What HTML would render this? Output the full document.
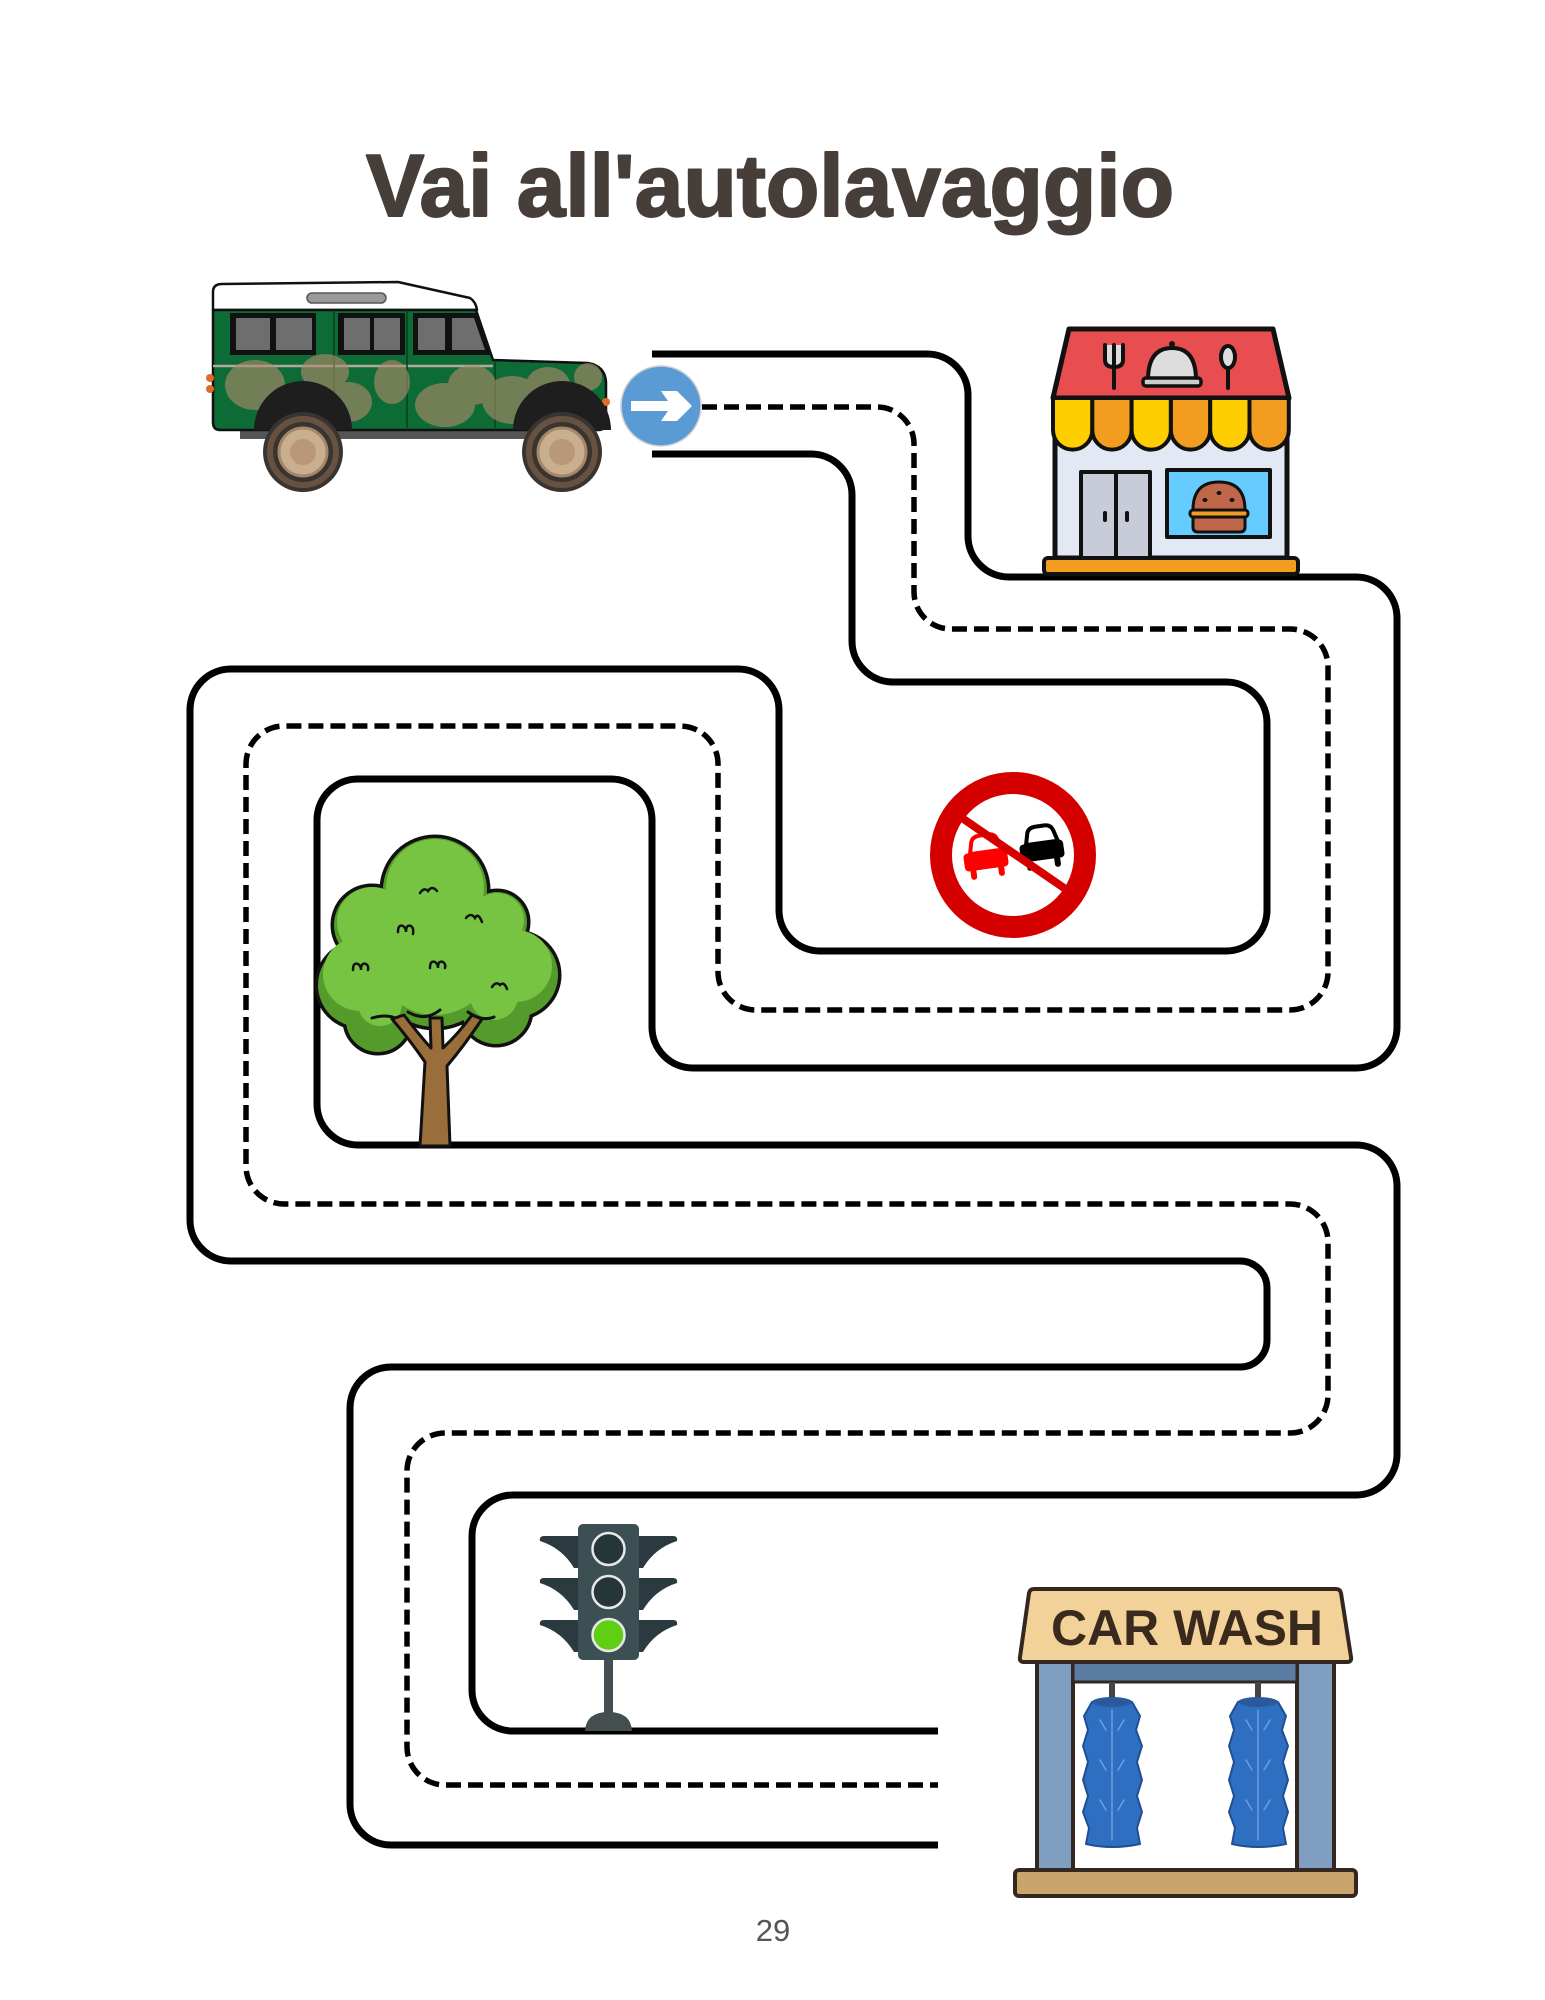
<!DOCTYPE html>
<html>
<head>
<meta charset="utf-8">
<style>
html,body{margin:0;padding:0;background:#fff;}
body{width:1545px;height:2000px;overflow:hidden;}
svg{display:block;}
</style>
</head>
<body>
<svg width="1545" height="2000" viewBox="0 0 1545 2000" xmlns="http://www.w3.org/2000/svg">
<rect width="1545" height="2000" fill="#fff"/>

<!-- Title -->
<text x="366" y="216" textLength="808" lengthAdjust="spacingAndGlyphs" font-family="Liberation Sans, sans-serif" font-weight="bold" font-size="88" fill="#473e3a" stroke="#473e3a" stroke-width="2" stroke-linejoin="round">Vai all'autolavaggio</text>

<!-- Maze roads -->
<g fill="none" stroke="#000" stroke-width="7">
<path d="M 652 354 H 927 A 41 41 0 0 1 968 395 V 536 A 41 41 0 0 0 1009 577 H 1356 A 41 41 0 0 1 1397 618 V 1027 A 41 41 0 0 1 1356 1068 H 693 A 41 41 0 0 1 652 1027 V 820 A 41 41 0 0 0 611 779 H 358 A 41 41 0 0 0 317 820 V 1104 A 41 41 0 0 0 358 1145 H 1356 A 41 41 0 0 1 1397 1186 V 1454 A 41 41 0 0 1 1356 1495 H 513 A 41 41 0 0 0 472 1536 V 1690 A 41 41 0 0 0 513 1731 H 938"/>
<path d="M 652 454 H 811 A 41 41 0 0 1 852 495 V 641 A 41 41 0 0 0 893 682 H 1226 A 41 41 0 0 1 1267 723 V 910 A 41 41 0 0 1 1226 951 H 820 A 41 41 0 0 1 779 910 V 710 A 41 41 0 0 0 738 669 H 231 A 41 41 0 0 0 190 710 V 1220 A 41 41 0 0 0 231 1261 H 1240 A 27 27 0 0 1 1267 1288 V 1340 A 27 27 0 0 1 1240 1367 H 391 A 41 41 0 0 0 350 1408 V 1804 A 41 41 0 0 0 391 1845 H 938"/>
</g>
<path fill="none" stroke="#000" stroke-width="5.5" stroke-dasharray="15 7" d="M 702 407 H 877 A 37 37 0 0 1 914 444 V 592 A 37 37 0 0 0 951 629 H 1290 A 38 38 0 0 1 1328 667 V 972 A 38 38 0 0 1 1290 1010 H 756 A 38 38 0 0 1 718 972 V 764 A 38 38 0 0 0 680 726 H 284 A 38 38 0 0 0 246 764 V 1166 A 38 38 0 0 0 284 1204 H 1290 A 38 38 0 0 1 1328 1242 V 1395 A 38 38 0 0 1 1290 1433 H 445 A 38 38 0 0 0 407 1471 V 1747 A 38 38 0 0 0 445 1785 H 938"/>

<!-- Arrow sign -->
<circle cx="661" cy="406" r="40" fill="#5b9bd5" stroke="#d0d0d0" stroke-width="1.5"/>
<polygon points="631,401 668,401 661,391 677,391 692,406 677,421 661,421 668,411 631,411" fill="#fff"/>

<!-- Jeep -->
<g stroke-linejoin="round">
<path d="M 213 310 V 292 Q 213 284 222 284 L 398 282 L 470 298 Q 476 302 477 310 Z" fill="#fff" stroke="#111" stroke-width="2.5"/>
<rect x="307" y="293" width="79" height="10" rx="5" fill="#9a9a9a" stroke="#555" stroke-width="1.5"/>
<rect x="240" y="426" width="330" height="13" fill="#555"/>
<path d="M 213 310 H 476 L 493 360 L 588 363 Q 605 366 606 382 V 422 Q 606 430 598 430 H 220 Q 213 430 213 422 Z" fill="#0d6b35" stroke="#111" stroke-width="2.5"/>
<rect x="230" y="313" width="86" height="42" fill="#111"/>
<rect x="236" y="318" width="34" height="32" fill="#6e6e6e"/>
<rect x="276" y="318" width="36" height="32" fill="#6e6e6e"/>
<rect x="338" y="313" width="67" height="42" fill="#111"/>
<rect x="344" y="318" width="26" height="32" fill="#6e6e6e"/>
<rect x="374" y="318" width="26" height="32" fill="#6e6e6e"/>
<polygon points="413,313 478,313 492,355 413,355" fill="#111"/>
<rect x="418" y="318" width="27" height="32" fill="#6e6e6e"/>
<polygon points="452,318 474,318 485,350 452,350" fill="#6e6e6e"/>
<line x1="213" y1="366" x2="493" y2="366" stroke="#b0a89a" stroke-width="2.5"/>
<line x1="334" y1="310" x2="334" y2="428" stroke="#083f20" stroke-width="1.5"/>
<line x1="407" y1="310" x2="407" y2="428" stroke="#083f20" stroke-width="1.5"/>
<line x1="495" y1="362" x2="495" y2="428" stroke="#083f20" stroke-width="1.5"/>
<g fill="#b48c6c" opacity="0.6">
<ellipse cx="255" cy="385" rx="30" ry="25"/>
<ellipse cx="325" cy="372" rx="24" ry="18"/>
<ellipse cx="348" cy="402" rx="24" ry="20"/>
<ellipse cx="392" cy="382" rx="18" ry="22"/>
<ellipse cx="445" cy="405" rx="30" ry="22"/>
<ellipse cx="472" cy="385" rx="24" ry="20"/>
<ellipse cx="512" cy="400" rx="30" ry="24"/>
<ellipse cx="548" cy="385" rx="22" ry="18"/>
<ellipse cx="588" cy="377" rx="14" ry="14"/>
</g>
<circle cx="210" cy="378" r="4" fill="#e06a2a"/>
<circle cx="210" cy="389" r="4" fill="#e06a2a"/>
<circle cx="606" cy="402" r="4" fill="#e06a2a"/>
<path d="M 254 430 A 49 49 0 0 1 352 430 Z" fill="#1e1e1e"/>
<path d="M 513 430 A 49 49 0 0 1 611 430 Z" fill="#1e1e1e"/>
<circle cx="303" cy="452" r="40" fill="#3a3430"/>
<circle cx="303" cy="452" r="33" fill="none" stroke="#7a6048" stroke-width="6" opacity="0.7"/>
<circle cx="303" cy="452" r="24" fill="#c9ae8f" stroke="#a38768" stroke-width="3"/>
<circle cx="303" cy="452" r="13" fill="#b8977a"/>
<circle cx="562" cy="452" r="40" fill="#3a3430"/>
<circle cx="562" cy="452" r="33" fill="none" stroke="#7a6048" stroke-width="6" opacity="0.7"/>
<circle cx="562" cy="452" r="24" fill="#c9ae8f" stroke="#a38768" stroke-width="3"/>
<circle cx="562" cy="452" r="13" fill="#b8977a"/>
</g>

<!-- Restaurant -->
<g stroke="#111" stroke-linejoin="round">
<polygon points="1069,329 1273,329 1289,398 1053,398" fill="#e84e4f" stroke-width="5"/>
<rect x="1055" y="398" width="232" height="160" fill="#e3e8f5" stroke-width="5"/>
<path d="M 1053 398 V 430 A 19.65 19.65 0 0 0 1092.3 430 V 398 Z" fill="#fece00" stroke-width="4"/>
<path d="M 1092.3 398 V 430 A 19.65 19.65 0 0 0 1131.6 430 V 398 Z" fill="#f29d1f" stroke-width="4"/>
<path d="M 1131.6 398 V 430 A 19.65 19.65 0 0 0 1170.9 430 V 398 Z" fill="#fece00" stroke-width="4"/>
<path d="M 1170.9 398 V 430 A 19.65 19.65 0 0 0 1210.2 430 V 398 Z" fill="#f29d1f" stroke-width="4"/>
<path d="M 1210.2 398 V 430 A 19.65 19.65 0 0 0 1249.5 430 V 398 Z" fill="#fece00" stroke-width="4"/>
<path d="M 1249.5 398 V 430 A 19.65 19.65 0 0 0 1288.8 430 V 398 Z" fill="#f29d1f" stroke-width="4"/>
<rect x="1081" y="472" width="69" height="86" fill="#c8ccd9" stroke-width="4"/>
<line x1="1116" y1="472" x2="1116" y2="558" stroke-width="4"/>
<rect x="1103" y="511" width="4" height="11" rx="2" fill="#111" stroke-width="0"/>
<rect x="1125" y="511" width="4" height="11" rx="2" fill="#111" stroke-width="0"/>
<rect x="1167" y="470" width="103" height="67" fill="#66ccff" stroke-width="4"/>
<path d="M 1193 510 Q 1193 482 1219 482 Q 1245 482 1245 510 Z" fill="#c0674a" stroke-width="3"/>
<rect x="1190" y="510" width="58" height="7" rx="3" fill="#f29d1f" stroke-width="3"/>
<path d="M 1193 517 H 1245 V 527 Q 1245 532 1240 532 H 1198 Q 1193 532 1193 527 Z" fill="#c0674a" stroke-width="3"/>
<ellipse cx="1205" cy="500" rx="2.5" ry="2" fill="#111" stroke-width="0"/>
<ellipse cx="1219" cy="493" rx="2.5" ry="2" fill="#111" stroke-width="0"/>
<ellipse cx="1232" cy="500" rx="2.5" ry="2" fill="#111" stroke-width="0"/>
<rect x="1044" y="558" width="254" height="16" rx="4" fill="#f29d1f" stroke-width="4"/>
<path d="M 1105 345 V 360 Q 1105 367 1114 367 Q 1123 367 1123 360 V 345 M 1114 345 V 388" fill="#ddd" stroke-width="4" stroke-linecap="round"/>
<path d="M 1148 380 Q 1148 348 1172 348 Q 1196 348 1196 380 Z" fill="#ddd" stroke-width="4"/>
<rect x="1143" y="378" width="58" height="8" rx="3" fill="#ccc" stroke-width="3.5"/>
<circle cx="1172" cy="344" r="3" fill="#111" stroke-width="0"/>
<ellipse cx="1228" cy="357" rx="7" ry="11" fill="#ddd" stroke-width="4"/>
<line x1="1228" y1="368" x2="1228" y2="388" stroke-width="4" stroke-linecap="round"/>
</g>

<!-- No overtaking sign -->
<circle cx="1013" cy="855" r="72" fill="#fff" stroke="#d40000" stroke-width="22"/>
<g transform="translate(986,860) rotate(-8)">
<path d="M -15 -8 L -12 -20 Q -10 -25 -3 -25 L 6 -25 Q 12 -25 14 -19 L 17 -8 Z" fill="#fff" stroke="#ff0000" stroke-width="4"/>
<rect x="-22" y="-9" width="44" height="18" rx="4" fill="#ff0000"/>
<rect x="-17" y="6" width="6" height="12" rx="3" fill="#ff0000"/>
<rect x="11" y="6" width="6" height="12" rx="3" fill="#ff0000"/>
</g>
<g transform="translate(1042,851) rotate(-8)">
<path d="M -15 -8 L -12 -20 Q -10 -25 -3 -25 L 6 -25 Q 12 -25 14 -19 L 17 -8 Z" fill="#fff" stroke="#000" stroke-width="4"/>
<rect x="-22" y="-9" width="44" height="18" rx="4" fill="#000"/>
<rect x="-17" y="6" width="6" height="12" rx="3" fill="#000"/>
<rect x="11" y="6" width="6" height="12" rx="3" fill="#000"/>
</g>
<line x1="962" y1="818" x2="1067" y2="890" stroke="#d40000" stroke-width="8"/>

<!-- Tree -->
<g>
<g fill="#559b2b" stroke="#111" stroke-width="7">
<circle cx="435" cy="890" r="52"/>
<circle cx="372" cy="925" r="38"/>
<circle cx="497" cy="922" r="30"/>
<circle cx="516" cy="975" r="42"/>
<circle cx="360" cy="985" r="42"/>
<circle cx="378" cy="1020" r="32"/>
<circle cx="496" cy="1010" r="34"/>
<circle cx="435" cy="965" r="62"/>
<circle cx="435" cy="985" r="40"/>
</g>
<g fill="#559b2b">
<circle cx="435" cy="890" r="52"/>
<circle cx="372" cy="925" r="38"/>
<circle cx="497" cy="922" r="30"/>
<circle cx="516" cy="975" r="42"/>
<circle cx="360" cy="985" r="42"/>
<circle cx="378" cy="1020" r="32"/>
<circle cx="496" cy="1010" r="34"/>
<circle cx="435" cy="965" r="62"/>
<circle cx="435" cy="985" r="40"/>
</g>
<g fill="#76c442">
<circle cx="435" cy="888" r="49"/>
<circle cx="372" cy="922" r="35"/>
<circle cx="497" cy="920" r="27"/>
<circle cx="516" cy="966" r="36"/>
<circle cx="360" cy="974" r="37"/>
<circle cx="435" cy="955" r="60"/>
<circle cx="380" cy="1004" r="22"/>
<circle cx="494" cy="996" r="24"/>
</g>
<g fill="none" stroke="#111" stroke-width="2.5" stroke-linecap="round">
<path d="M 420 893 q 4 -6 8 -2 q 4 -6 9 0"/>
<path d="M 398 932 q 0 -8 5 -6 q 3 2 3 6 q 0 -8 5 -6 q 3 2 2 8"/>
<path d="M 466 918 q 5 -6 9 0 q 3 -6 7 4"/>
<path d="M 353 970 q 0 -8 5 -6 q 3 2 3 6 q 0 -8 5 -6 q 3 2 2 6"/>
<path d="M 430 968 q 0 -8 5 -6 q 3 2 3 6 q 0 -8 5 -6 q 3 2 2 6"/>
<path d="M 492 987 q 4 -6 8 -2 q 4 -4 7 4"/>
</g>
<path d="M 420 1146 L 425 1062 Q 410 1040 392 1019 L 404 1015 Q 420 1036 431 1048 L 430 1018 L 442 1018 L 443 1048 Q 458 1034 472 1015 L 482 1019 Q 464 1046 447 1066 L 450 1146 Z" fill="#9a6e3a" stroke="#111" stroke-width="3" stroke-linejoin="round"/>
<g fill="none" stroke="#111" stroke-width="3" stroke-linecap="round">
<path d="M 372 1018 Q 385 1014 395 1018"/>
<path d="M 408 1012 Q 425 1022 440 1010"/>
<path d="M 468 1012 Q 482 1022 494 1017"/>
</g>
</g>

<!-- Traffic light -->
<g fill="#2a3a3e">
<path d="M 578 1536 H 544 Q 539 1536 540 1541 Q 562 1548 574 1568 L 578 1568 Z"/>
<path d="M 578 1578 H 544 Q 539 1578 540 1583 Q 562 1590 574 1610 L 578 1610 Z"/>
<path d="M 578 1620 H 544 Q 539 1620 540 1625 Q 562 1632 574 1652 L 578 1652 Z"/>
<path d="M 639 1536 H 673 Q 678 1536 677 1541 Q 655 1548 643 1568 L 639 1568 Z"/>
<path d="M 639 1578 H 673 Q 678 1578 677 1583 Q 655 1590 643 1610 L 639 1610 Z"/>
<path d="M 639 1620 H 673 Q 678 1620 677 1625 Q 655 1632 643 1652 L 639 1652 Z"/>
</g>
<rect x="604" y="1658" width="9" height="72" fill="#444d4f"/>
<path d="M 585 1731 Q 586 1712 608.5 1712 Q 631 1712 632 1731 Z" fill="#444d4f"/>
<rect x="578" y="1524" width="61" height="136" rx="5" fill="#3c4f52"/>
<circle cx="608.5" cy="1549" r="16" fill="#263538" stroke="#e8e8e8" stroke-width="2.5"/>
<circle cx="608.5" cy="1592" r="16" fill="#263538" stroke="#e8e8e8" stroke-width="2.5"/>
<circle cx="608.5" cy="1635" r="16" fill="#5fcf14" stroke="#e8e8e8" stroke-width="2.5"/>

<!-- Car wash -->
<g stroke="#33271f" stroke-linejoin="round">
<rect x="1037" y="1660" width="36" height="212" fill="#7f9ec0" stroke-width="4"/>
<rect x="1297" y="1660" width="37" height="212" fill="#7f9ec0" stroke-width="4"/>
<rect x="1073" y="1662" width="224" height="20" fill="#5a7ca3" stroke-width="3"/>
<rect x="1109" y="1682" width="6" height="18" fill="#444" stroke-width="0"/>
<rect x="1255" y="1682" width="6" height="18" fill="#444" stroke-width="0"/>
<path d="M 1092 1702 Q 1112 1696 1132 1702 L 1140 1716 L 1136 1730 L 1142 1746 L 1137 1762 L 1142 1780 L 1137 1796 L 1142 1812 L 1137 1828 L 1140 1844 Q 1112 1850 1086 1844 L 1089 1828 L 1083 1812 L 1088 1796 L 1083 1780 L 1088 1762 L 1083 1746 L 1088 1730 L 1084 1716 Z" fill="#2f6fc2" stroke="#1f4f92" stroke-width="2"/>
<path d="M 1238 1702 Q 1258 1696 1278 1702 L 1286 1716 L 1282 1730 L 1288 1746 L 1283 1762 L 1288 1780 L 1283 1796 L 1288 1812 L 1283 1828 L 1286 1844 Q 1258 1850 1232 1844 L 1235 1828 L 1229 1812 L 1234 1796 L 1229 1780 L 1234 1762 L 1229 1746 L 1234 1730 L 1230 1716 Z" fill="#2f6fc2" stroke="#1f4f92" stroke-width="2"/>
<g fill="none" stroke="#6a9fe0" stroke-width="1.5" stroke-linecap="round">
<path d="M 1112 1710 V 1840 M 1100 1720 l 6 10 M 1124 1720 l -6 10 M 1100 1760 l 6 10 M 1124 1760 l -6 10 M 1100 1800 l 6 10 M 1124 1800 l -6 10"/>
<path d="M 1258 1710 V 1840 M 1246 1720 l 6 10 M 1270 1720 l -6 10 M 1246 1760 l 6 10 M 1270 1760 l -6 10 M 1246 1800 l 6 10 M 1270 1800 l -6 10"/>
</g>
<ellipse cx="1112" cy="1702" rx="20" ry="5" fill="#2a5a9c" stroke-width="0"/>
<ellipse cx="1258" cy="1702" rx="20" ry="5" fill="#2a5a9c" stroke-width="0"/>
<path d="M 1034 1589 H 1336 Q 1340 1589 1341 1593 L 1351 1657 Q 1352 1662 1347 1662 H 1024 Q 1019 1662 1020 1657 L 1029 1593 Q 1030 1589 1034 1589 Z" fill="#f3d29a" stroke-width="4"/>
<rect x="1015" y="1870" width="341" height="26" rx="4" fill="#c9a46c" stroke-width="4"/>
</g>
<text x="1051" y="1645" textLength="272" lengthAdjust="spacingAndGlyphs" font-family="Liberation Sans, sans-serif" font-weight="bold" font-size="50" fill="#3a2a1e">CAR WASH</text>

<!-- Page number -->
<text x="773" y="1941" text-anchor="middle" font-family="Liberation Sans, sans-serif" font-size="31" fill="#555">29</text>
</svg>
</body>
</html>
